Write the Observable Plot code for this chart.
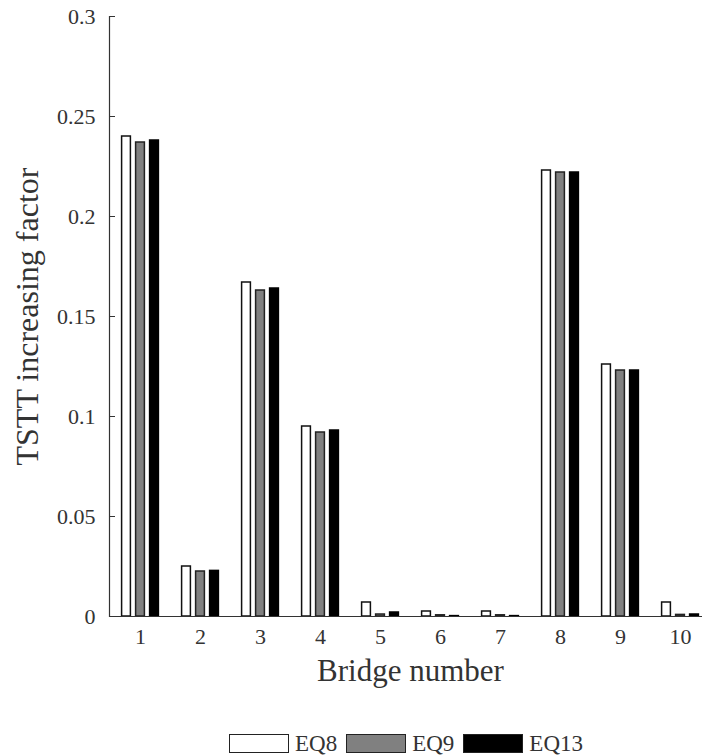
<!DOCTYPE html>
<html>
<head>
<meta charset="utf-8">
<script src="https://cdn.jsdelivr.net/npm/d3@7"></script>
<script src="https://cdn.jsdelivr.net/npm/@observablehq/plot@0.6"></script>
<style>
  html, body { margin: 0; padding: 0; background: #fff; }
  #chart { width: 702px; }
  .legend { display: flex; align-items: center; padding-top: 31px; padding-left: 229px; height: 25px;
    font-family: "Liberation Serif", "Times New Roman", serif; font-size: 23px; color: #333; }
  .legend .sw { width: 58px; height: 17px; border: 1.5px solid #222; }
  .legend .lab { margin-left: 6px; margin-right: 9px; }
</style>
</head>
<body>
<div id="chart"></div>
<script>
const bridges = [1, 2, 3, 4, 5, 6, 7, 8, 9, 10];
const seriesNames = ["EQ8", "EQ9", "EQ13"];
const eq8  = [0.240, 0.025, 0.167, 0.095, 0.007, 0.0025, 0.0025, 0.223, 0.126, 0.007];
const eq9  = [0.237, 0.0225, 0.163, 0.092, 0.001, 0.0006, 0.0006, 0.222, 0.123, 0.0008];
const eq13 = [0.238, 0.0228, 0.164, 0.093, 0.002, 0.0002, 0.0002, 0.222, 0.123, 0.001];
const yTicks = [0, 0.05, 0.1, 0.15, 0.2, 0.25, 0.3];
const yLabel = "TSTT increasing factor";
const xLabel = "Bridge number";

const seriesValues = [eq8, eq9, eq13];
const fills = ["#ffffff", "#808080", "#000000"];
const strokes = ["#111", "#222", "#000"];
const offsets = [-14, 0, 14];

const font = "'Liberation Serif', 'Times New Roman', serif";

const barMarks = seriesValues.map((vals, i) =>
  Plot.barY(bridges.map((b, j) => ({bridge: b, value: vals[j]})), {
    x: "bridge", y: "value",
    fill: fills[i], stroke: strokes[i], strokeWidth: 1.5,
    insetLeft: 25.6, insetRight: 25.6, dx: offsets[i]
  })
);

const chart = Plot.plot({
  width: 702,
  height: 700,
  marginTop: 16,
  marginBottom: 84,
  marginLeft: 109,
  marginRight: -9,
  style: {fontFamily: font, color: "#333", background: "#fff"},
  x: {type: "band", domain: bridges, padding: 0, label: null},
  y: {domain: [0, 0.3], label: null},
  marks: [
    ...barMarks,
    Plot.ruleY([0], {stroke: "#333", strokeWidth: 1.2}),
    Plot.frame({anchor: "left", stroke: "#333", strokeWidth: 1.2}),
    Plot.axisY(yTicks, {tickSize: -6, tickPadding: 20, fontSize: 22, stroke: "#333", label: null, tickFormat: d3.format("")}),
    Plot.axisX(bridges, {tickSize: 0, tickPadding: 12, fontSize: 22, label: null}),
    Plot.text([yLabel], {frameAnchor: "left", textAnchor: "middle", dx: -82, rotate: -90, fontSize: 32, fill: "#333"}),
    Plot.text([xLabel], {frameAnchor: "bottom", textAnchor: "middle", dy: 64, fontSize: 31, fill: "#333"})
  ]
});
document.getElementById("chart").appendChild(chart);

const legend = document.createElement("div");
legend.className = "legend";
seriesNames.forEach((name, i) => {
  const sw = document.createElement("div");
  sw.className = "sw";
  sw.style.background = fills[i];
  const lab = document.createElement("span");
  lab.className = "lab";
  lab.textContent = name;
  legend.appendChild(sw);
  legend.appendChild(lab);
});
document.getElementById("chart").appendChild(legend);
</script>
</body>
</html>
